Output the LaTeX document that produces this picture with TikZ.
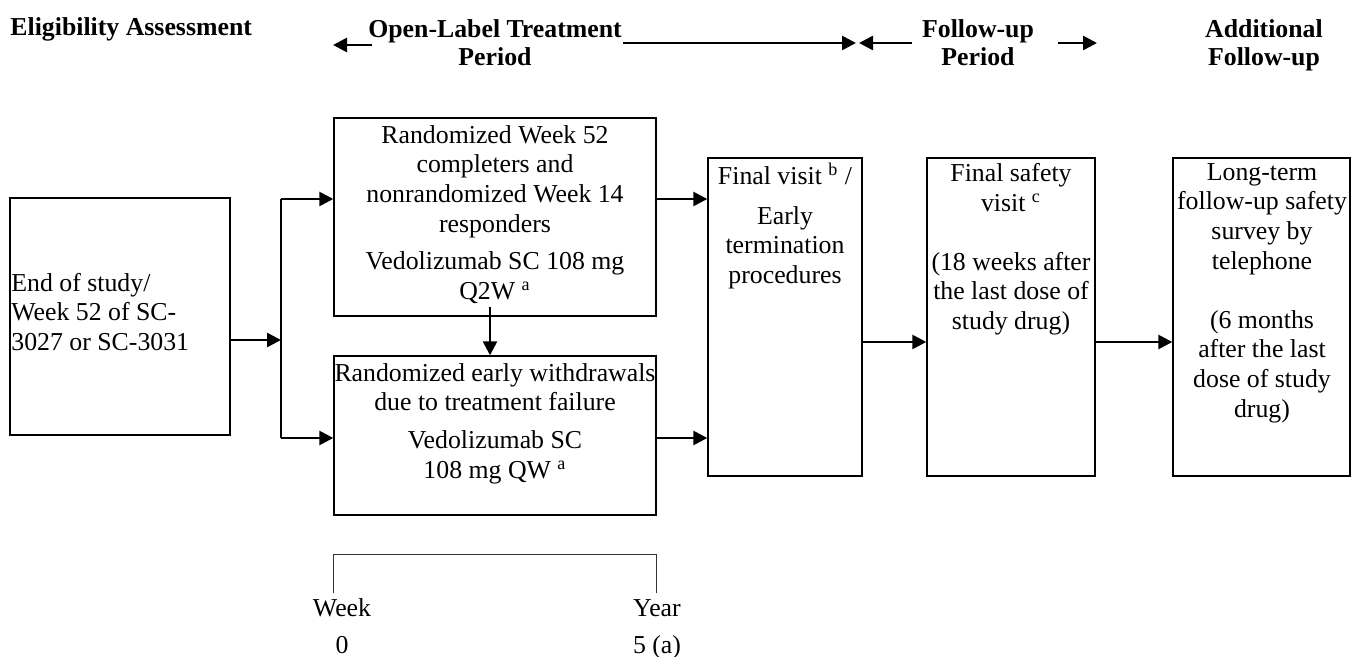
\documentclass[tikz,border=0pt]{standalone}
\usepackage{fontspec}
\setmainfont{Liberation Serif}
\usetikzlibrary{arrows.meta,fit}

\begin{document}
\begin{tikzpicture}[x=0.5pt,y=-0.5pt,
  every node/.style={font=\fontsize{12.9}{14.8}\selectfont, inner sep=0pt},
  box/.style={draw, line width=0.7pt, inner sep=0pt},
  txt/.style={align=center, anchor=north},
  head/.style={align=center, anchor=north, font=\fontsize{12.9}{14}\selectfont\bfseries},
  arr/.style={-{Triangle[length=7pt,width=7pt]}, line width=1.3pt},
  tick/.style={line width=0.5pt, black!80}]
\useasboundingbox (0,0) rectangle (1354,657);

% period headings
\node[head, anchor=base west] (elig) at (10,36) {Eligibility Assessment};
\node[head] (olt) at (495,19) {Open-Label Treatment\\Period};
\node[head] (fup) at (978,19) {Follow-up\\Period};
\node[head] (addl) at (1264,19) {Additional\\Follow-up};
\coordinate (oltleft) at (333,45);
\coordinate (oltright) at (856,43);
\coordinate (fupleft) at (859,43);
\coordinate (fupright) at (1097,43);
\draw[arr] (372,45) -- (oltleft);
\draw[arr] (623,43) -- (oltright);
\draw[arr] (912,43) -- (fupleft);
\draw[arr] (1058,43) -- (fupright);

% boxes
\node[box, fit={(10,198) (230,435)}] (eos) {};
\node[anchor=west, align=left] (eostxt) at (11,312) {End of study/\\Week 52 of SC-\\3027 or SC-3031};

\node[box, fit={(334,118) (656,316)}] (rwk) {};
\node[txt] (rwktxt) at (495,125) {Randomized Week 52\\completers and\\nonrandomized Week 14\\responders\\[4pt]Vedolizumab SC 108 mg\\Q2W \textsuperscript{a}};

\node[box, fit={(334,356) (656,515)}] (rew) {};
\node[txt] (rewtxt) at (495,363) {Randomized early withdrawals\\due to treatment failure\\[4pt]Vedolizumab SC\\108 mg QW \textsuperscript{a}};

\node[box, fit={(708,158) (862,476)}] (fv) {};
\node[txt] (fvtxt) at (785,163) {Final visit \textsuperscript{b} /\\[5pt]Early\\termination\\procedures};

\node[box, fit={(927,158) (1095,476)}] (fsv) {};
\node[txt] (fsvtxt) at (1011,163) {Final safety\\visit \textsuperscript{c}\\[14.8pt](18 weeks after\\the last dose of\\study drug)};

\node[box, fit={(1173,158) (1350,476)}] (lt) {};
\node[txt] (lttxt) at (1262,163) {Long-term\\follow-up safety\\survey by\\telephone\\[14.8pt](6 months\\after the last\\dose of study\\drug)};

% connectors
\coordinate (splittop) at (281,199);
\coordinate (splitbot) at (281,438);
\coordinate (eosmid) at (0,340);
\coordinate (fmid) at (0,342);
\draw[line width=0.9pt] (splittop) -- (splitbot);
\draw[arr] (eos.east |- eosmid) -- (splittop |- eosmid);
\draw[arr] (splittop) -- (rwk.west |- splittop);
\draw[arr] (splitbot) -- (rew.west |- splitbot);
\draw[arr] ([xshift=-2.5pt,yshift=5pt]rwk.south) -- ([xshift=-2.5pt]rew.north);
\draw[arr] (rwk.east |- splittop) -- (fv.west |- splittop);
\draw[arr] (rew.east |- splitbot) -- (fv.west |- splitbot);
\draw[arr] (fv.east |- fmid) -- (fsv.west |- fmid);
\draw[arr] (fsv.east |- fmid) -- (lt.west |- fmid);

% time line
\draw[tick] (333,593) -- (333,554) -- (656,554) -- (656,593);
\node[anchor=base] (wk) at (342,616) {Week};
\node[anchor=base] (wk0) at (342,653) {0};
\node[anchor=base] (yr) at (657,616) {Year};
\node[anchor=base] (yr5) at (657,653) {5 (a)};
\end{tikzpicture}
\end{document}
